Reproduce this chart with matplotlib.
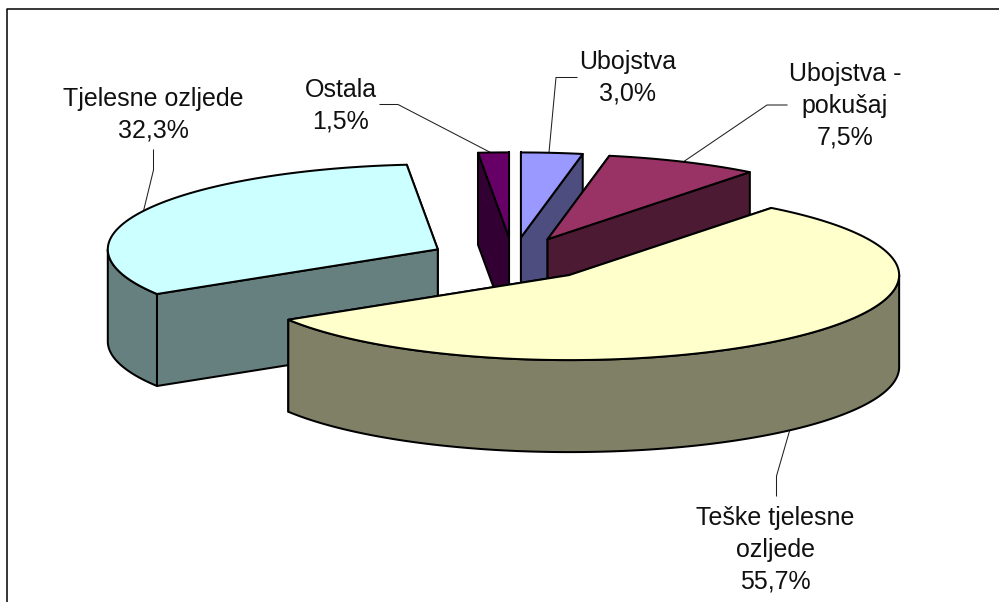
import numpy as np
import matplotlib
matplotlib.use("Agg")
import matplotlib.pyplot as plt
from matplotlib.patches import Polygon

categories = ["Ubojstva", "Ubojstva -\npokušaj", "Teške tjelesne\nozljede", "Tjelesne ozljede", "Ostala"]
shares = [3.0, 7.5, 55.7, 32.3, 1.5]

top_colors = ["#9999FF", "#993366", "#FFFFCC", "#CCFFFF", "#660066"]
side_colors = ["#4D4D80", "#4D1A33", "#808066", "#668080", "#330033"]
draw_order = [4, 0, 1, 3, 2]

W, H = 999, 602
CX, CY = 513, 259
RX, RY = 330, 85
EXPLODE = 84
DEPTH = 92
LW = 1.45
LINE_STEP = 31.6

# label centre x, first baseline y, and leader points, in canvas units
label_pos = [(627.5, 69), (845, 81), (775.5, 525), (153, 106), (340.5, 97)]
leader_dx = [-3, 0, 0, 1, -3]
leader_via = [[(556, 77.5), (577, 77.5)], [(767, 105), (787, 105)], [(776.5, 476), (776.5, 496)],
              [(153.5, 170), (153.5, 150)], [(398, 104.5), (380, 104.5)]]

fig = plt.figure(figsize=(W / 100, H / 100), dpi=100)
ax = fig.add_axes([0, 0, 1, 1])
ax.set_xlim(0, W)
ax.set_ylim(H, 0)
ax.axis("off")

ax.plot([999, 6.6, 6.6], [9.3, 9.3, 602], color="black", lw=1.1, solid_capstyle="butt", zorder=1)

total = sum(shares)
edges = np.radians(np.cumsum([0] + shares) / total * 360)


def rim(c, t):
    t = np.asarray(t)
    return np.column_stack([c[0] + RX * np.sin(t), c[1] - RY * np.cos(t)])


def face(pts, color, z):
    ax.add_patch(Polygon(pts, closed=True, facecolor=color, edgecolor="black",
                         lw=LW, joinstyle="round", zorder=z))


z = 2
anchors = {}
for i in draw_order:
    a0, a1 = edges[i], edges[i + 1]
    mid = (a0 + a1) / 2
    c = np.array([CX + EXPLODE * np.sin(mid), CY - EXPLODE * RY / RX * np.cos(mid)])
    drop = np.array([0, DEPTH])
    t = np.linspace(a0, a1, 200)
    arc = rim(c, t)

    # cut faces, the one further back first
    ends = sorted([rim(c, [a0])[0], rim(c, [a1])[0]], key=lambda p: p[1])
    for p in ends:
        face([c, p, p + drop, c + drop], side_colors[i], z)
        z += 1

    # outer wall: the front half of the rim only
    lo, hi = max(a0, np.pi / 2), min(a1, 3 * np.pi / 2)
    if hi > lo:
        wt = rim(c, np.linspace(lo, hi, 200))
        face(np.vstack([wt, wt[::-1] + drop]), side_colors[i], z)
        z += 1

    face(np.vstack([[c], arc]), top_colors[i], z)
    z += 1

    a = rim(c, [mid])[0]
    if np.pi / 2 < mid < 3 * np.pi / 2:
        a = a + drop
    anchors[i] = a

for i, (name, val) in enumerate(zip(categories, shares)):
    xs = [anchors[i][0] + leader_dx[i]] + [p[0] for p in leader_via[i]]
    ys = [anchors[i][1]] + [p[1] for p in leader_via[i]]
    ax.plot(xs, ys, color="#202020", lw=0.75, zorder=1.5)
    lines = name.split("\n") + [f"{val:.1f}%".replace(".", ",")]
    for k, line in enumerate(lines):
        ax.text(label_pos[i][0], label_pos[i][1] + k * LINE_STEP, line, ha="center", va="baseline",
                family="Liberation Sans", fontsize=18, color="#101010", zorder=100)

fig.savefig("out.png", dpi=100)
